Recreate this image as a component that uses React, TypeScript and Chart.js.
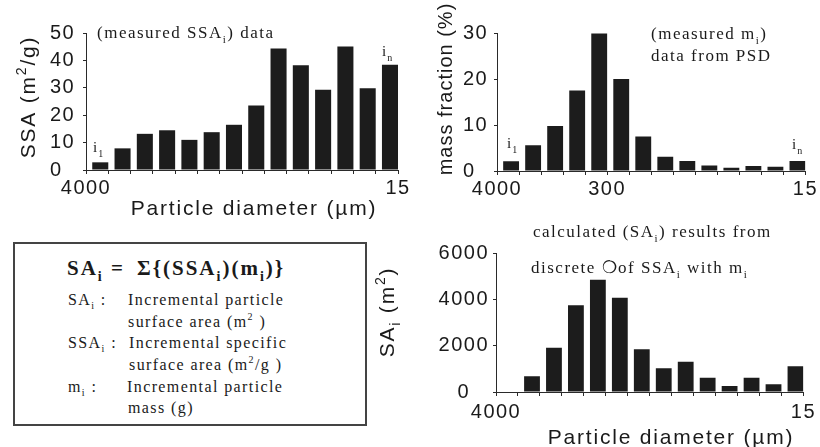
import React, { useEffect, useRef } from 'react';
import { Chart, registerables } from 'chart.js';

Chart.register(...registerables);

// ---------- data ----------
const BIN_COUNT = 14;
const SSA_VALUES = [2.8, 7.9, 13.2, 14.5, 11.0, 13.8, 16.5, 23.5, 44.3, 38.2, 29.3, 45.1, 29.8, 38.4];
const MASS_FRACTION = [2.1, 5.6, 9.8, 17.5, 29.9, 20.0, 7.5, 3.1, 2.2, 1.2, 0.7, 1.1, 0.9, 2.2];
const SA_VALUES = [0, 680, 1910, 3750, 4850, 4070, 1840, 1020, 1310, 620, 260, 620, 330, 1110];

const X_TICK_POS_1 = [0, 14];
const X_TICK_TEXT_1 = ['4000', '15'];
const X_TICK_POS_2 = [0, 5, 14];
const X_TICK_TEXT_2 = ['4000', '300', '15'];
const X_TICK_POS_3 = [0, 14];
const X_TICK_TEXT_3 = ['4000', '15'];

const Y_MAX_1 = 50, Y_STEP_1 = 10;
const Y_MAX_2 = 30, Y_STEP_2 = 10;
const Y_MAX_3 = 6000, Y_STEP_3 = 2000;

// ---------- style ----------
const SANS = '"Liberation Sans", Arial, sans-serif';
const SERIF = '"Liberation Serif", "Times New Roman", serif';
const TEXT = '#1a1a1a';
const AXIS = '#2a2a2a';
const BAR_COLOR = '#1c1c1c';
const BAR_SHIFT = 0.14;
const TICK_FONT = 20;
const TICK_SPACING = '1.5px';
const TITLE_FONT = 21;
const TITLE_SPACING = 1.8;
const NOTE_FONT = 17;
const NOTE_SPACING = 1.5;

type Seg = [string, ('n' | 'sub' | 'sup')?];
type RichOpts = { family: string; size: number; spacing: number; align: 'left' | 'center'; bold?: boolean; rotate?: boolean };

function drawRich(ctx: CanvasRenderingContext2D, segs: Seg[], x: number, y: number, o: RichOpts) {
  ctx.save();
  ctx.fillStyle = TEXT;
  ctx.textBaseline = 'alphabetic';
  ctx.textAlign = 'left';
  (ctx as any).letterSpacing = o.spacing + 'px';
  const fontFor = (k?: string) => {
    const s = k === 'sub' || k === 'sup' ? Math.round(o.size * 0.65) : o.size;
    return `${o.bold ? 'bold ' : ''}${s}px ${o.family}`;
  };
  let total = 0;
  for (const [t, k] of segs) {
    ctx.font = fontFor(k);
    total += ctx.measureText(t).width;
  }
  let bx = x, by = y;
  if (o.rotate) {
    ctx.translate(x, y);
    ctx.rotate(-Math.PI / 2);
    bx = 0;
    by = o.size * 0.36;
  }
  let cx = o.align === 'center' ? bx - total / 2 : bx;
  for (const [t, k] of segs) {
    ctx.font = fontFor(k);
    const dy = k === 'sub' ? o.size * 0.3 : k === 'sup' ? -o.size * 0.42 : 0;
    ctx.fillText(t, cx, by + dy);
    cx += ctx.measureText(t).width;
  }
  ctx.restore();
}

type Cfg = {
  values: number[];
  yMax: number;
  yStep: number;
  xTickPos: number[];
  xTickText: string[];
  canvasW: number;
  canvasH: number;
  area: { left: number; right: number; top: number; bottom: number };
  yLabelLeft: number;
  crossAlign: 'far' | 'center' | 'near';
  xTickPad: number;
  draw: (ctx: CanvasRenderingContext2D) => void;
};

const spacingPlugin = {
  id: 'letterSpacing',
  beforeLayout(chart: any) { chart.ctx.letterSpacing = TICK_SPACING; },
  beforeDraw(chart: any) { chart.ctx.letterSpacing = TICK_SPACING; },
};

function makeChart(canvas: HTMLCanvasElement, cfg: Cfg) {
  const annot = {
    id: 'annot',
    afterDraw(chart: any) {
      const ctx = chart.ctx as CanvasRenderingContext2D;
      ctx.save();
      cfg.draw(ctx);
      ctx.restore();
    },
  };
  return new Chart(canvas, {
    type: 'bar',
    data: {
      datasets: [
        {
          data: cfg.values.map((v, i) => ({ x: i + 0.5, y: v })),
          backgroundColor: BAR_COLOR,
          borderWidth: 0,
          xAxisID: 'xb',
          yAxisID: 'y',
          barPercentage: 0.9,
          categoryPercentage: 0.8,
        } as any,
      ],
    },
    options: {
      responsive: false,
      animation: false,
      devicePixelRatio: 1,
      layout: {
        padding: {
          left: cfg.yLabelLeft,
          right: cfg.canvasW - cfg.area.right,
          top: cfg.area.top,
          bottom: 0,
        },
      },
      plugins: { legend: { display: false }, tooltip: { enabled: false }, title: { display: false } },
      scales: {
        x: {
          type: 'linear',
          position: 'bottom',
          offset: false,
          min: 0,
          max: BIN_COUNT,
          ticks: {
            stepSize: 1,
            maxTicksLimit: 100,
            autoSkip: false,
            maxRotation: 0,
            minRotation: 0,
            padding: cfg.xTickPad,
            color: TEXT,
            font: { size: TICK_FONT, family: SANS },
            callback: (v: any) => {
              const k = cfg.xTickPos.indexOf(Number(v));
              return k >= 0 ? cfg.xTickText[k] : '';
            },
          },
          grid: { display: true, offset: false, drawOnChartArea: false, drawTicks: true, tickLength: 4, color: AXIS },
          border: { display: true, color: AXIS, width: 1 },
          afterFit: (s: any) => { s.height = cfg.canvasH - cfg.area.bottom; },
        },
        xb: {
          type: 'linear',
          axis: 'x',
          display: false,
          offset: false,
          grid: { offset: false },
          min: -BAR_SHIFT,
          max: BIN_COUNT - BAR_SHIFT,
        },
        y: {
          type: 'linear',
          position: 'left',
          min: 0,
          max: cfg.yMax,
          ticks: {
            stepSize: cfg.yStep,
            padding: 4,
            crossAlign: cfg.crossAlign,
            color: TEXT,
            font: { size: TICK_FONT, family: SANS },
            callback: (v: any) => String(v),
          },
          grid: { display: true, drawOnChartArea: false, drawTicks: true, tickLength: 3, color: AXIS },
          border: { display: true, color: AXIS, width: 1 },
          afterFit: (s: any) => { s.width = cfg.area.left - cfg.yLabelLeft; },
        },
      } as any,
    },
    plugins: [spacingPlugin, annot],
  } as any);
}

const titleOpts = (rotate: boolean) => ({ family: SANS, size: TITLE_FONT, spacing: TITLE_SPACING, align: 'center' as const, rotate });
const noteOpts = { family: SERIF, size: NOTE_FONT, spacing: NOTE_SPACING, align: 'left' as const };
const idxOpts = { family: SERIF, size: 15, spacing: 1, align: 'left' as const };

// ---------- chart configs ----------
const CFG_1: Cfg = {
  values: SSA_VALUES,
  yMax: Y_MAX_1,
  yStep: Y_STEP_1,
  xTickPos: X_TICK_POS_1,
  xTickText: X_TICK_TEXT_1,
  canvasW: 420,
  canvasH: 225,
  area: { left: 86, right: 398, top: 33, bottom: 170 },
  yLabelLeft: 50,
  crossAlign: 'far',
  xTickPad: 2,
  draw: (ctx) => {
    drawRich(ctx, [['SSA (m'], ['2', 'sup'], ['/g)']], 27, 97, titleOpts(true));
    drawRich(ctx, [['Particle diameter (µm)']], 254, 215, titleOpts(false));
    drawRich(ctx, [['(measured SSA'], ['i', 'sub'], [') data']], 97, 38, noteOpts);
    drawRich(ctx, [['i'], ['1', 'sub']], 93, 152, idxOpts);
    drawRich(ctx, [['i'], ['n', 'sub']], 382, 56, idxOpts);
  },
};

const CFG_2: Cfg = {
  values: MASS_FRACTION,
  yMax: Y_MAX_2,
  yStep: Y_STEP_2,
  xTickPos: X_TICK_POS_2,
  xTickText: X_TICK_TEXT_2,
  canvasW: 410,
  canvasH: 225,
  area: { left: 87, right: 396, top: 33, bottom: 171 },
  yLabelLeft: 53,
  crossAlign: 'far',
  xTickPad: 2,
  draw: (ctx) => {
    drawRich(ctx, [['mass fraction (%)']], 35, 89, { family: SANS, size: 20, spacing: 1, align: 'center', rotate: true });
    drawRich(ctx, [['(measured m'], ['i', 'sub'], [')']], 241, 39, noteOpts);
    drawRich(ctx, [['data from PSD']], 241, 61, noteOpts);
    drawRich(ctx, [['i'], ['1', 'sub']], 97, 148, idxOpts);
    drawRich(ctx, [['i'], ['n', 'sub']], 382, 149, idxOpts);
  },
};

const CFG_3: Cfg = {
  values: SA_VALUES,
  yMax: Y_MAX_3,
  yStep: Y_STEP_3,
  xTickPos: X_TICK_POS_3,
  xTickText: X_TICK_TEXT_3,
  canvasW: 450,
  canvasH: 234,
  area: { left: 126, right: 436, top: 40, bottom: 179 },
  yLabelLeft: 65,
  crossAlign: 'center',
  xTickPad: 4,
  draw: (ctx) => {
    drawRich(ctx, [['SA'], ['i', 'sub'], [' (m'], ['2', 'sup'], [')']], 16, 99, titleOpts(true));
    drawRich(ctx, [['Particle diameter (µm)']], 301, 231, titleOpts(false));
    drawRich(ctx, [['calculated (SA'], ['i', 'sub'], [') results from']], 163, 24, noteOpts);
    drawRich(ctx, [['discrete '], ['❍'], ['of SSA'], ['i', 'sub'], [' with m'], ['i', 'sub']], 161, 60, noteOpts);
  },
};

// ---------- components ----------
function ChartCanvas({ cfg, left, top }: { cfg: Cfg; left: number; top: number }) {
  const ref = useRef<HTMLCanvasElement>(null);
  useEffect(() => {
    const chart = makeChart(ref.current as HTMLCanvasElement, cfg);
    return () => chart.destroy();
  }, [cfg]);
  return (
    <canvas
      ref={ref}
      width={cfg.canvasW}
      height={cfg.canvasH}
      style={{ position: 'absolute', left, top, width: cfg.canvasW, height: cfg.canvasH }}
    />
  );
}

function Sub({ c, size }: { c: string; size: number }) {
  return <span style={{ position: 'relative', top: size * 0.3, fontSize: Math.round(size * 0.65) }}>{c}</span>;
}
function Sup({ c, size }: { c: string; size: number }) {
  return <span style={{ position: 'relative', top: -size * 0.42, fontSize: Math.round(size * 0.65) }}>{c}</span>;
}

function TextLine({ x, baseline, size, bold, spacing, children }: { x: number; baseline: number; size: number; bold?: boolean; spacing: number; children: React.ReactNode }) {
  return (
    <div
      style={{
        position: 'absolute',
        left: x,
        top: baseline - 0.3375 * size,
        fontSize: size,
        lineHeight: 0,
        fontFamily: SERIF,
        fontWeight: bold ? 700 : 400,
        letterSpacing: spacing,
        whiteSpace: 'pre',
        color: TEXT,
      }}
    >
      {children}
    </div>
  );
}

export default function App() {
  const R = 16;
  const T = 21;
  const RS = 1.4;
  return (
    <div style={{ position: 'absolute', left: 0, top: 0, width: 820, height: 447, background: '#fff', overflow: 'hidden' }}>
      <ChartCanvas cfg={CFG_1} left={0} top={0} />
      <ChartCanvas cfg={CFG_2} left={410} top={0} />
      <ChartCanvas cfg={CFG_3} left={370} top={213} />
      <div
        style={{
          position: 'absolute',
          left: 13,
          top: 242,
          width: 354,
          height: 184,
          boxSizing: 'border-box',
          border: '2px solid #444',
        }}
      />
      <TextLine x={67} baseline={275} size={T} bold spacing={2}>SA<Sub c="i" size={T} /> =</TextLine>
      <TextLine x={137} baseline={275} size={T} bold spacing={2}>Σ{'{'}(SSA<Sub c="i" size={T} />)(m<Sub c="i" size={T} />){'}'}</TextLine>

      <TextLine x={68} baseline={305} size={R} spacing={RS}>SA<Sub c="i" size={R} /> :</TextLine>
      <TextLine x={128} baseline={305} size={R} spacing={RS}>Incremental particle</TextLine>
      <TextLine x={128} baseline={327} size={R} spacing={RS}>surface area (m<Sup c="2" size={R} /> )</TextLine>
      <TextLine x={68} baseline={348} size={R} spacing={RS}>SSA<Sub c="i" size={R} /> :</TextLine>
      <TextLine x={129} baseline={348} size={R} spacing={RS}>Incremental specific</TextLine>
      <TextLine x={129} baseline={370} size={R} spacing={RS}>surface area (m<Sup c="2" size={R} />/g )</TextLine>
      <TextLine x={68} baseline={392} size={R} spacing={RS}>m<Sub c="i" size={R} /> :</TextLine>
      <TextLine x={127} baseline={392} size={R} spacing={RS}>Incremental particle</TextLine>
      <TextLine x={128} baseline={413} size={R} spacing={RS}>mass (g)</TextLine>
    </div>
  );
}
